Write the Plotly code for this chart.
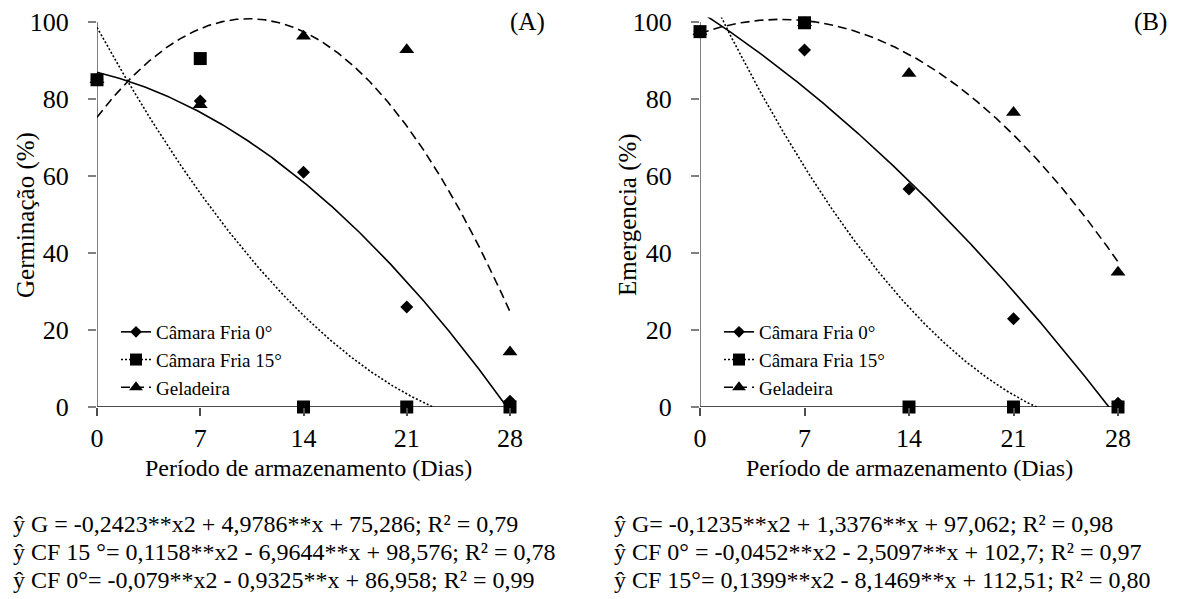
import numpy as np
import plotly.graph_objects as go

# ---------------- data ----------------
days = [0, 7, 14, 21, 28]
x_ticks = [0, 7, 14, 21, 28]
y_ticks = [0, 20, 40, 60, 80, 100]

# Panel A - Germinação (%)
germ_cf0 = [85, 79.5, 61, 26, 1.5]
germ_cf15 = [85, 90.5, 0, 0, 0]
germ_gel = [85, 78.5, 96.3, 92.8, 14.3]

# Panel B - Emergencia (%)
emer_cf0 = [97.5, 92.7, 56.6, 22.9, 1]
emer_cf15 = [97.5, 99.8, 0, 0, 0]
emer_gel = [97.5, 99.8, 86.6, 76.5, 35]

# Regression coefficients printed under each panel (a, b, c) for a*x^2 + b*x + c
coef_A_gel = [-0.2423, 4.9786, 75.286]
coef_A_cf15 = [0.1158, -6.9644, 98.576]
coef_A_cf0 = [-0.079, -0.9325, 86.958]
coef_B_gel = [-0.1235, 1.3376, 97.062]
coef_B_cf0 = [-0.0452, -2.5097, 102.7]
coef_B_cf15 = [0.1399, -8.1469, 112.51]

eq_A = [
    "ŷ G = -0,2423**x2 + 4,9786**x + 75,286; R² = 0,79",
    "ŷ CF 15 °= 0,1158**x2 - 6,9644**x + 98,576; R² = 0,78",
    "ŷ CF 0°= -0,079**x2 - 0,9325**x + 86,958; R² = 0,99",
]
eq_B = [
    "ŷ G= -0,1235**x2 + 1,3376**x + 97,062; R² = 0,98",
    "ŷ CF 0° = -0,0452**x2 - 2,5097**x + 102,7; R² = 0,97",
    "ŷ CF 15°= 0,1399**x2 - 8,1469**x + 112,51; R² = 0,80",
]

names = ["Câmara Fria 0°", "Câmara Fria 15°", "Geladeira"]
symbols = ["diamond", "square", "triangle-up"]
msizes = [10, 13, 13]
dashes = ["solid", "2px,2px", "9px,5px"]

# ---------------- layout helpers ----------------
PAGE_OFF = 8                      # default body margin of the html page
W, H = 1189 - PAGE_OFF, 599 - PAGE_OFF
FONT = "Liberation Serif, Times New Roman, serif"
Y_TOP = 101.2  # plot area extends slightly above 100, as in the reference


def px(x):
    return (x - PAGE_OFF) / W


def py(y):
    return 1 - (y - PAGE_OFF) / H


xgrid = np.linspace(0, 28, 561)


def curve(c):
    return c[0] * xgrid ** 2 + c[1] * xgrid + c[2]


fig = go.Figure()

panels = [
    ("x", "y", "legend", [germ_cf0, germ_cf15, germ_gel], [coef_A_cf0, coef_A_cf15, coef_A_gel]),
    ("x2", "y2", "legend2", [emer_cf0, emer_cf15, emer_gel], [coef_B_cf0, coef_B_cf15, coef_B_gel]),
]

for xa, ya, leg, series, coefs in panels:
    for i in range(3):
        fig.add_trace(go.Scatter(
            x=xgrid, y=curve(coefs[i]), mode="lines", xaxis=xa, yaxis=ya,
            line=dict(color="black", width=1.6, dash=dashes[i]),
            showlegend=False, hoverinfo="skip"))
    for i in [2, 0, 1]:
        fig.add_trace(go.Scatter(
            x=days, y=series[i], mode="markers", xaxis=xa, yaxis=ya,
            marker=dict(symbol=symbols[i], color="black", size=msizes[i],
                        line=dict(width=0)),
            cliponaxis=False, showlegend=False))
    for i in range(3):
        fig.add_trace(go.Scatter(
            x=[None], y=[None], mode="lines+markers", xaxis=xa, yaxis=ya,
            name=names[i], legend=leg,
            line=dict(color="black", width=1.6, dash=dashes[i]),
            marker=dict(symbol=symbols[i], color="black", size=msizes[i] - 1)))

axis_common = dict(
    showgrid=False, zeroline=False, showline=False, automargin=False,
    ticks="outside", ticklen=8, tickwidth=1.5,
    tickfont=dict(family=FONT, size=26, color="black"),
)

y_bottom_px, y100_px = 407, 22
y_top_px = y100_px - (Y_TOP - 100) * (y_bottom_px - y100_px) / 100

fig.update_layout(
    width=W, height=H,
    margin=dict(l=0, r=0, t=0, b=0, autoexpand=False),
    paper_bgcolor="white", plot_bgcolor="white",
    font=dict(family=FONT, color="black"),
    xaxis=dict(domain=[px(97), px(510)], range=[0, 28], tickvals=x_ticks,
               anchor="y", tickcolor="#4d4d4d", **axis_common),
    yaxis=dict(domain=[py(y_bottom_px), py(y_top_px)], range=[0, Y_TOP], tickvals=y_ticks,
               anchor="x", tickcolor="#808080", ticklabelstandoff=14, **axis_common),
    xaxis2=dict(domain=[px(700), px(1118)], range=[0, 28], tickvals=x_ticks,
                anchor="y2", tickcolor="#4d4d4d", **axis_common),
    yaxis2=dict(domain=[py(y_bottom_px), py(y_top_px)], range=[0, Y_TOP], tickvals=y_ticks,
                anchor="x2", tickcolor="#808080", ticklabelstandoff=14, **axis_common),
    legend=dict(x=px(116), y=py(313), xanchor="left", yanchor="top",
                bgcolor="rgba(0,0,0,0)", font=dict(family=FONT, size=19, color="black"),
                tracegroupgap=0),
    legend2=dict(x=px(719), y=py(313), xanchor="left", yanchor="top",
                 bgcolor="rgba(0,0,0,0)", font=dict(family=FONT, size=19, color="black"),
                 tracegroupgap=0),
)

# axis lines drawn in data coordinates (y line stops at 100)
shapes = []
for xr, yr in [("x", "y"), ("x2", "y2")]:
    shapes.append(dict(type="line", xref=xr, yref=yr, x0=0, x1=0, y0=0, y1=100,
                       line=dict(color="#808080", width=2), layer="below"))
    shapes.append(dict(type="line", xref=xr, yref=yr, x0=0, x1=28, y0=0, y1=0,
                       line=dict(color="#4d4d4d", width=2), layer="below"))
fig.update_layout(shapes=shapes)

ann = []
for xc in [308, 910]:
    ann.append(dict(text="Período de armazenamento (Dias)", x=px(xc), y=py(468),
                    xref="paper", yref="paper", xanchor="center", yanchor="middle",
                    showarrow=False, font=dict(family=FONT, size=24, color="black")))
ann.append(dict(text="Germinação (%)", x=px(26), y=py(215), textangle=-90,
                xref="paper", yref="paper", xanchor="center", yanchor="middle",
                showarrow=False, font=dict(family=FONT, size=25, color="black")))
ann.append(dict(text="Emergencia (%)", x=px(628), y=py(215), textangle=-90,
                xref="paper", yref="paper", xanchor="center", yanchor="middle",
                showarrow=False, font=dict(family=FONT, size=25, color="black")))
ann.append(dict(text="(A)", x=px(527), y=py(22), xref="paper", yref="paper",
                xanchor="center", yanchor="middle", showarrow=False,
                font=dict(family=FONT, size=25, color="black")))
ann.append(dict(text="(B)", x=px(1150), y=py(22), xref="paper", yref="paper",
                xanchor="center", yanchor="middle", showarrow=False,
                font=dict(family=FONT, size=25, color="black")))

eq_y = [524, 552, 580]
for j in range(3):
    ann.append(dict(text=eq_A[j], x=px(11), y=py(eq_y[j]), xref="paper", yref="paper",
                    xanchor="left", yanchor="middle", showarrow=False,
                    font=dict(family=FONT, size=24, color="black")))
    ann.append(dict(text=eq_B[j], x=px(612), y=py(eq_y[j]), xref="paper", yref="paper",
                    xanchor="left", yanchor="middle", showarrow=False,
                    font=dict(family=FONT, size=24, color="black")))

fig.update_layout(annotations=ann)

fig.write_html("out.html")
